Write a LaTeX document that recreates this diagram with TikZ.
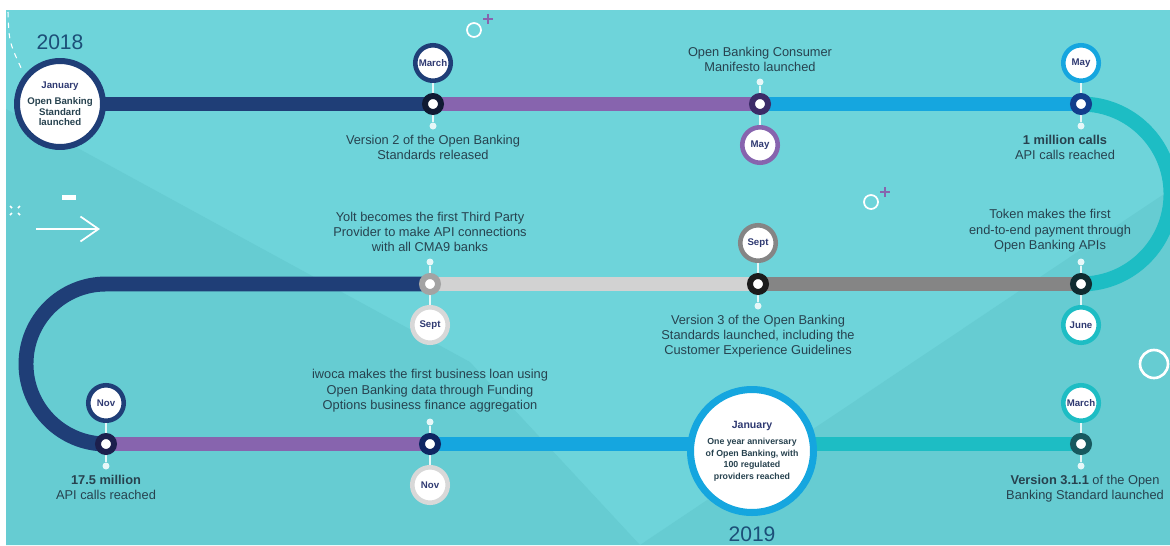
\documentclass[tikz,border=0pt]{standalone}
\usepackage{fontspec}
\setmainfont{Liberation Sans}
\usetikzlibrary{positioning,arrows.meta}
\definecolor{sea}{HTML}{6ED4DA}
\definecolor{seadark}{HTML}{66CCD2}
\definecolor{navy}{HTML}{1F3E77}
\definecolor{plum}{HTML}{8764AE}
\definecolor{sky}{HTML}{15A6DF}
\definecolor{lagoon}{HTML}{1DBDC4}
\definecolor{steel}{HTML}{858585}
\definecolor{silver}{HTML}{D2D2D2}
\definecolor{rimgray}{HTML}{D8D8D8}
\definecolor{ink}{HTML}{27424F}
\definecolor{monthink}{HTML}{2F3A72}
\definecolor{yearink}{HTML}{1C4F78}
\definecolor{tackwhite}{HTML}{E6F7F8}
\definecolor{ringA}{HTML}{101A33}
\definecolor{ringB}{HTML}{3B2B67}
\definecolor{ringC}{HTML}{123E8C}
\definecolor{ringD}{HTML}{0F2B30}
\definecolor{ringE}{HTML}{1B1B1B}
\definecolor{ringF}{HTML}{A3A3A3}
\definecolor{ringG}{HTML}{1C1F4D}
\definecolor{ringH}{HTML}{0E2662}
\definecolor{ringI}{HTML}{17595F}
\begin{document}
\begin{tikzpicture}
  [x=0.02cm,y=-0.02cm,
   track/.style={line width=8.5pt},
   event/.style={circle, draw, fill=white, line width=3.4pt, minimum size=0.32cm, inner sep=0pt},
   month/.style={circle, draw, fill=white, line width=2.6pt, minimum size=0.71cm, inner sep=0pt,
     text=monthink, font=\bfseries\fontsize{5.5}{6}\selectfont},
   tack/.style={circle, fill=tackwhite, minimum size=0.14cm, inner sep=0pt},
   stem/.style={draw=tackwhite, line width=0.9pt},
   note/.style={align=center, inner sep=0pt, text=ink, font=\fontsize{7.3}{8.6}\selectfont},
   bigday/.style={circle, draw, fill=white, inner sep=0pt, align=center, text=ink},
   year/.style={text=yearink, font=\fontsize{12}{12}\selectfont}]
  \useasboundingbox (0,0) rectangle (1170,545);
  \fill[white] (0,0) rectangle (1170,545);
  \fill[sea] (6,10) rectangle (1170,545);
  \fill[seadark] (6,109) -- (470,362) -- (640,545) -- (6,545) -- cycle;
  \fill[seadark] (640,545) -- (1170,190) -- (1170,545) -- cycle;

  % decorations
  \draw[white, dashed, line width=0.6pt] (8,12) .. controls (9,42) .. (23,72);
  \draw[white, line width=1pt] (474,30) circle[radius=7];
  \draw[plum, line width=1.1pt] (483,19) -- (493,19) (488,14) -- (488,24);
  \draw[white, line width=1pt] (871,202) circle[radius=7];
  \draw[plum, line width=1.1pt] (880,192) -- (890,192) (885,187) -- (885,197);
  \draw[white, line width=1.5pt] (1154,364) circle[radius=14];
  \fill[white] (62,195) rectangle (76,200);
  \draw[white, line width=1pt, -{Straight Barb[length=0.36cm, width=0.5cm]}] (36,229) -- (100,229);
  \foreach \px/\py/\dx/\dy in {10/206/2/2, 20/206/-2/2, 10/215/2/-2, 20/215/-2/-2}
    \draw[white, line width=1pt] (\px,\py) -- ++(\dx,\dy);

  \coordinate (j18) at (60,104);
  \coordinate (j19) at (752,451);
  \foreach \n/\x/\y in {1/433/104, 2/760/104, 3/1081/104, 4/1081/284, 5/758/284,
                        6/430/284, 7/106/444, 8/430/444, 9/1081/444}
    \coordinate (e\n) at (\x,\y);

  \draw[track, navy] (j18) -- (e1);
  \draw[track, plum] (e1) -- (e2);
  \draw[track, sky] (e2) -- (e3);
  \draw[track, lagoon] (e3) arc[start angle=-90, end angle=90, radius=90];
  \draw[track, steel] (e4) -- (e5);
  \draw[track, silver] (e5) -- (e6);
  \draw[track, navy] (e6) -- (106,284) arc[start angle=270, end angle=90, radius=80];
  \draw[track, plum] (e7) -- (e8);
  \draw[track, sky] (e8) -- (e8 -| j19);
  \draw[track, lagoon] (e8 -| j19) -- (e9);

  \foreach \n/\x/\y/\s/\ring/\rim/\mon in {1/433/104/-1/ringA/navy/March,
      2/760/104/1/ringB/plum/May, 3/1081/104/-1/ringC/sky/May,
      4/1081/284/1/ringD/lagoon/June, 5/758/284/-1/ringE/steel/Sept,
      6/430/284/1/ringF/rimgray/Sept, 7/106/444/-1/ringG/navy/Nov,
      8/430/444/1/ringH/rimgray/Nov, 9/1081/444/-1/ringI/lagoon/March}
  {
    \node[month, draw=\rim] (m\n) at ({\x},{\y+41*(\s)}) {\mon};
    \node[tack] (p\n) at ({\x},{\y-22*(\s)}) {};
    \draw[stem] (m\n) -- (p\n);
    \node[event, draw=\ring] (d\n) at (e\n) {};
  }

  \node[bigday, draw=navy, line width=3.4pt, minimum size=1.72cm,
        font=\bfseries\fontsize{5.5}{6}\selectfont] (jan18) at (j18)
    {\textcolor{monthink}{January}\\[3pt]Open Banking\\Standard\\launched};
  \node[bigday, draw=sky, line width=4pt, minimum size=2.46cm,
        font=\bfseries\fontsize{5}{6.5}\selectfont] (jan19) at (j19)
    {\textcolor{monthink}{\fontsize{6}{7}\selectfont January}\\[3pt]One year anniversary\\of Open Banking, with\\100 regulated\\providers reached};
  \node[year] (y18) at (60,42) {2018};
  \node[year] (y19) at (752,534) {2019};

  \node[note, below=0.1cm of p1] (l1) {Version 2 of the Open Banking\\Standards released};
  \node[note, above=0.12cm of p2] (l2) {Open Banking Consumer\\Manifesto launched};
  \node[note, below=0.1cm of p3, xshift=-0.32cm] (l3) {\textbf{1 million calls}\\API calls reached};
  \node[note, above=0.12cm of p4, xshift=-0.62cm] (l4) {Token makes the first\\end-to-end payment through\\Open Banking APIs};
  \node[note, below=0.1cm of p5] (l5) {Version 3 of the Open Banking\\Standards launched, including the\\Customer Experience Guidelines};
  \node[note, above=0.12cm of p6] (l6) {Yolt becomes the first Third Party\\Provider to make API connections\\with all CMA9 banks};
  \node[note, below=0.1cm of p7] (l7) {\textbf{17.5 million}\\API calls reached};
  \node[note, above=0.12cm of p8] (l8) {iwoca makes the first business loan using\\Open Banking data through Funding\\Options business finance aggregation};
  \node[note, below=0.1cm of p9, xshift=0.08cm] (l9) {\textbf{Version 3.1.1} of the Open\\Banking Standard launched};
\end{tikzpicture}
\end{document}
